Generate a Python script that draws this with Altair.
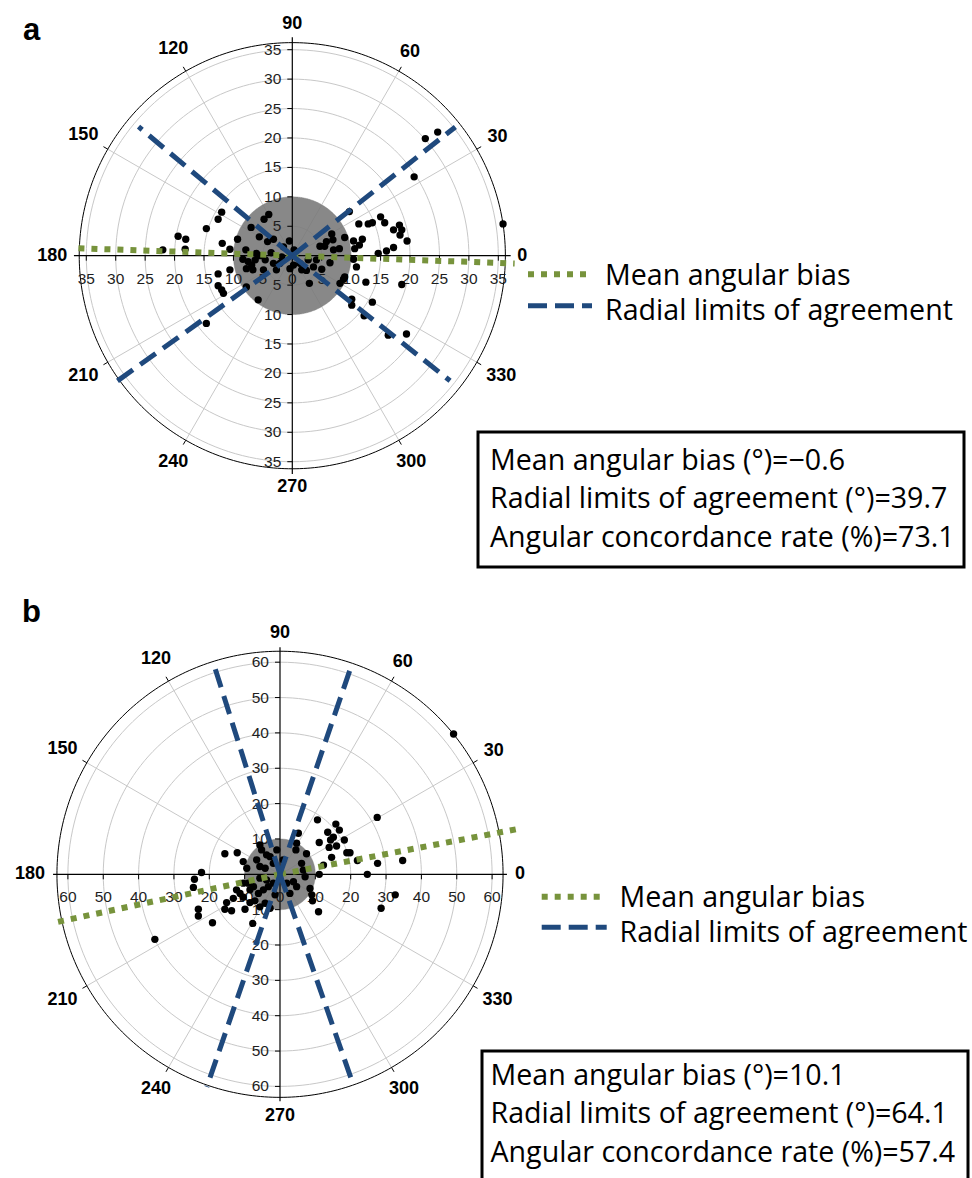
import math
import altair as alt
import pandas as pd

W = 972
PH = 589  # height of each panel

# ---------------- data ----------------
ANGLES = [0, 30, 60, 90, 120, 150, 180, 210, 240, 270, 300, 330]
LEGEND_TEXT = ["Mean angular bias", "Radial limits of agreement"]

# panel a : points (cartesian, data units)
A_X = [35.8, 22.6, 24.7, 20.7, 9.7, 11.3, 12.9, 13.6, 15.0, 15.7, 17.2, 18.2, 18.6, 18.3, 19.5,
       17.2, 16.0, 14.6, 11.9, 10.4, 11.4, 10.6, 8.9, 6.7, 6.9, 5.8, 5.5, 4.7, 7.0, 8.0,
       10.4, 10.9, 12.5, 18.6, 8.7, 6.4, 5.0, 3.6, 2.9, 8.1, 10.1, 10.1, 13.6, 12.2, 16.3,
       19.4, 1.3, 1.6, 0.2, 2.7,
       -4.0, -4.8, -7.0, -5.6, -4.2, -3.2, -12.0, -12.6, -14.6, -19.4, -18.1, -18.2, -22.0,
       -11.9, -10.6, -9.3, -7.9, -0.5, -1.5, 0.3, -6.1, -3.6,
       -8.4, -7.5, -6.9, -6.3, -4.6, -3.2, -6.7, -7.8, -10.6, -12.6, -12.6, -12.0, -11.7,
       -5.8, -14.6, -2.1, -0.4, -4.9, -2.7, -5.5, -1.8, -7.8, 2.4, 4.1, 8.9]
A_Y = [5.4, 19.9, 21.0, 13.4, 7.5, 5.4, 5.4, 5.6, 6.6, 5.6, 4.4, 5.2, 4.4, 3.5, 2.5,
       1.4, 0.8, 0.4, 2.8, 2.5, 1.8, 1.2, 3.1, 3.7, 2.7, 2.4, 1.6, 1.6, 1.0, 1.2,
       -0.6, -1.9, -4.5, -4.9, -4.0, -1.2, -2.3, -1.9, -4.7, -4.7, -7.4, -8.4, -7.9, -10.2, -13.5,
       -13.3, -1.3, -2.4, -1.6, -0.7,
       7.0, 6.2, 4.8, 3.2, 2.4, 2.8, 7.4, 6.2, 4.6, 3.3, 2.8, 1.1, 1.0,
       2.1, 1.1, 2.8, 1.0, 2.5, 1.5, 1.0, 0.4, 0.5,
       -0.6, -1.0, -1.6, -0.7, -0.7, -1.3, -2.4, -5.3, -2.4, -3.1, -5.1, -5.8, -6.4,
       -7.5, -11.5, -1.3, -2.2, -2.4, -2.4, 0.0, -0.2, -2.2, -2.5, -0.7, -3.6]
A_BIAS_ANG = [-2.0, 178.0]
A_BIAS_LEN = [37.8, 36.6]
A_LOA_ANG = [38.3, 140.0, 215.6, 321.6]
A_LOA_LEN = [35.3, 34.1, 37.4, 34.2]
A_STATS = ["Mean angular bias (°)=\u22120.6",
           "Radial limits of agreement (°)=39.7",
           "Angular concordance rate (%)=73.1"]

# panel b
B_X = [49.1, 27.5, 10.6, 15.8, 16.8, 13.5, 15.1, 14.3, 18.2, 16.0, 11.1, 13.9, 18.9, 19.8,
       14.6, 21.9, 27.6, 34.7, 24.7, 12.3, 11.1, 32.6, 28.6, 10.9, 9.2, 9.0, 8.5, 5.2, 4.7,
       4.5, 7.5, 6.1, 6.6, 7.1, 4.7, 3.8, 1.9, 2.8,
       -5.7, -5.2, -3.8, -2.8, -6.6, -10.4, -9.4, -12.1, -15.6, -0.9, -1.9, 0.9, -5.7, -4.2,
       -22.2, -24.2, -24.5, -23.1, -23.1, -19.1, -35.4, -15.1, -15.6, -13.7, -13.2, -11.3,
       -10.4, -9.9, -7.7, -8.5, -7.1, -5.7, -4.2, -2.8, -9.0, -7.5, -6.1, -4.7, -3.3, -1.4,
       -1.9, -3.8, -5.7, -8.5, -12.3, -10.4]
B_Y = [39.7, 16.1, 15.4, 14.2, 12.5, 11.9, 10.5, 9.7, 9.7, 8.0, 9.0, 7.6, 6.1, 6.1,
       4.8, 3.9, 3.1, 3.9, 0.0, 2.6, 0.0, -5.8, -9.6, -10.6, -7.5, -5.8, -4.0, 11.6, 8.8,
       6.9, 5.8, 3.1, 1.2, -0.7, -3.5, -2.1, -2.5, -5.4,
       8.3, 6.9, 5.5, 5.0, 4.1, 3.6, 1.7, 6.1, 5.8, 6.9, 3.1, 4.1, 2.2, 1.7,
       0.5, -1.4, -3.7, -9.9, -11.8, -13.7, -18.4, -8.0, -9.9, -10.3, -6.8, -5.4,
       -6.5, -9.9, -13.9, -8.0, -7.5, -9.2, -8.2, -9.6, -2.5, -3.5, -5.4, -4.4, -3.5, -5.8,
       -2.5, -1.6, -1.1, -4.4, -4.4, -2.5]
B_BIAS_ANG = [10.8, 192.1]
B_BIAS_LEN = [68.2, 66.0]
B_LOA_ANG = [71.1, 107.5, 251.0, 289.2]
B_LOA_LEN = [62.8, 62.6, 63.6, 63.1]
B_STATS = ["Mean angular bias (°)=10.1",
           "Radial limits of agreement (°)=64.1",
           "Angular concordance rate (%)=57.4"]

GREEN = "#77933C"
BLUE = "#1F497D"
NUMFONT = "Liberation Sans"
TXTFONT = "Open Sans"
TXTSIZE = 28.6

CFG_A = dict(cx=292.3, cy=255.7, s=5.886, rmax=35, step=5, outer=36.2, axis=37.1,
             lab=225, disk=10, letter="a", lx=23, ly=40,
             g=(528, 586, 274.3), bl=(528, 592, 305.7), legx=605, legy=285,
             box=(478, 964, 432, 567), statx=490, staty=470)
CFG_B = dict(cx=280.0, cy=285.3, s=3.535, rmax=60, step=10, outer=63.1, axis=64.2,
             lab=235, disk=10, letter="b", lx=22, ly=32.7,
             g=(541.7, 600.7, 307.7), bl=(541.7, 606.7, 338.3), legx=619.5, legy=317.7,
             box=(482, 968, 462, 600), statx=490.5, staty=496)


def one():
    return pd.DataFrame({"d": [0]})


def build(cfg, px, py, bias_ang, bias_len, loa_ang, loa_len, stats):
    s = cfg["s"]
    xdom = [-cfg["cx"] / s, (W - cfg["cx"]) / s]
    ydom = [-(PH - cfg["cy"]) / s, cfg["cy"] / s]
    xs = alt.Scale(domain=xdom, nice=False, zero=False)
    ys = alt.Scale(domain=ydom, nice=False, zero=False)

    def X(f):
        return alt.X(f, type="quantitative", scale=xs, axis=None)

    def Y(f):
        return alt.Y(f, type="quantitative", scale=ys, axis=None)

    layers = []
    # grid circles
    rows = []
    for r in range(cfg["step"], cfg["rmax"] + 1, cfg["step"]):
        for i in range(181):
            t = math.radians(i * 2)
            rows.append(dict(r=r, i=i, x=r * math.cos(t), y=r * math.sin(t)))
    layers.append(alt.Chart(pd.DataFrame(rows)).mark_line(color="#c8c8c8", strokeWidth=1)
                  .encode(X("x"), Y("y"), detail="r:N", order="i:Q"))
    # spokes
    sp = [a for a in ANGLES if a % 90 != 0]
    spd = pd.DataFrame(dict(x=[0.0] * len(sp), y=[0.0] * len(sp),
                            x2=[cfg["outer"] * math.cos(math.radians(a)) for a in sp],
                            y2=[cfg["outer"] * math.sin(math.radians(a)) for a in sp]))
    layers.append(alt.Chart(spd).mark_rule(color="#c8c8c8", strokeWidth=1)
                  .encode(X("x"), Y("y"), x2="x2", y2="y2"))
    # gray disk
    n = 201
    dx = [-cfg["disk"] + 2 * cfg["disk"] * k / (n - 1) for k in range(n)]
    dy = [math.sqrt(max(cfg["disk"] ** 2 - v * v, 0)) for v in dx]
    dd = pd.DataFrame(dict(x=dx, y=dy, y2=[-v for v in dy]))
    layers.append(alt.Chart(dd).mark_area(color="#777777", opacity=0.88)
                  .encode(X("x"), Y("y"), y2="y2"))
    # outer circle
    oc = []
    for i in range(361):
        t = math.radians(i)
        oc.append(dict(i=i, x=cfg["outer"] * math.cos(t), y=cfg["outer"] * math.sin(t)))
    layers.append(alt.Chart(pd.DataFrame(oc)).mark_line(color="black", strokeWidth=1)
                  .encode(X("x"), Y("y"), order="i:Q"))
    # angle ticks
    t0, t1 = cfg["outer"], cfg["outer"] + 5 / s
    tk = pd.DataFrame(dict(x=[t0 * math.cos(math.radians(a)) for a in sp],
                           y=[t0 * math.sin(math.radians(a)) for a in sp],
                           x2=[t1 * math.cos(math.radians(a)) for a in sp],
                           y2=[t1 * math.sin(math.radians(a)) for a in sp]))
    layers.append(alt.Chart(tk).mark_rule(color="black", strokeWidth=1)
                  .encode(X("x"), Y("y"), x2="x2", y2="y2"))
    # axes
    ax = pd.DataFrame(dict(x=[-cfg["axis"], 0.0], y=[0.0, -cfg["axis"]],
                           x2=[cfg["axis"], 0.0], y2=[0.0, cfg["axis"]]))
    layers.append(alt.Chart(ax).mark_rule(color="black", strokeWidth=1.2)
                  .encode(X("x"), Y("y"), x2="x2", y2="y2"))
    # radial ticks
    vals = [v for v in range(-cfg["rmax"], cfg["rmax"] + 1, cfg["step"]) if v != 0]
    vt = pd.DataFrame(dict(x=[0.0] * len(vals), x2=[-5 / s] * len(vals), y=[float(v) for v in vals]))
    layers.append(alt.Chart(vt).mark_rule(color="black", strokeWidth=1)
                  .encode(X("x"), Y("y"), x2="x2"))
    ht = pd.DataFrame(dict(x=[float(v) for v in vals], y=[0.0] * len(vals), y2=[-5 / s] * len(vals)))
    layers.append(alt.Chart(ht).mark_rule(color="black", strokeWidth=1)
                  .encode(X("x"), Y("y"), y2="y2"))
    # radial labels
    vl = pd.DataFrame(dict(x=[0.0] * len(vals), y=[float(v) for v in vals],
                           t=[str(abs(v)) for v in vals]))
    layers.append(alt.Chart(vl).mark_text(align="right", baseline="middle", dx=-11,
                                          font=NUMFONT, fontSize=15.5, color="#1e1e1e")
                  .encode(X("x"), Y("y"), text="t:N"))
    hv = list(range(-cfg["rmax"], cfg["rmax"] + 1, cfg["step"]))
    hl = pd.DataFrame(dict(x=[float(v) for v in hv], y=[0.0] * len(hv),
                           t=[str(abs(v)) for v in hv]))
    layers.append(alt.Chart(hl).mark_text(align="center", baseline="middle", dy=23,
                                          font=NUMFONT, fontSize=15.5, color="#1e1e1e")
                  .encode(X("x"), Y("y"), text="t:N"))
    # points
    layers.append(alt.Chart(pd.DataFrame(dict(x=px, y=py))).mark_circle(size=54, color="black", opacity=1)
                  .encode(X("x"), Y("y")))
    # bias line
    bd = pd.DataFrame(dict(x=[0.0] * len(bias_ang), y=[0.0] * len(bias_ang),
                           x2=[l * math.cos(math.radians(a)) for a, l in zip(bias_ang, bias_len)],
                           y2=[l * math.sin(math.radians(a)) for a, l in zip(bias_ang, bias_len)]))
    layers.append(alt.Chart(bd).mark_rule(color=GREEN, strokeWidth=6, strokeDash=[6, 7])
                  .encode(X("x"), Y("y"), x2="x2", y2="y2"))
    # limits of agreement
    ld = pd.DataFrame(dict(x=[0.0] * len(loa_ang), y=[0.0] * len(loa_ang),
                           x2=[l * math.cos(math.radians(a)) for a, l in zip(loa_ang, loa_len)],
                           y2=[l * math.sin(math.radians(a)) for a, l in zip(loa_ang, loa_len)]))
    layers.append(alt.Chart(ld).mark_rule(color=BLUE, strokeWidth=5, strokeDash=[19, 9])
                  .encode(X("x"), Y("y"), x2="x2", y2="y2"))
    # angle labels
    rows = []
    for a in ANGLES:
        w = len(str(a)) * 10
        t = math.radians(a)
        rp = cfg["lab"] + abs(math.cos(t)) * w / 2 + abs(math.sin(t)) * 6.5
        rows.append(dict(x=rp / s * math.cos(t), y=rp / s * math.sin(t), t=str(a)))
    layers.append(alt.Chart(pd.DataFrame(rows)).mark_text(align="center", baseline="middle",
                                                          font=NUMFONT, fontSize=18,
                                                          fontWeight="bold", color="black")
                  .encode(X("x"), Y("y"), text="t:N"))
    # legend
    g = cfg["g"]
    layers.append(alt.Chart(one()).mark_rule(color=GREEN, strokeWidth=6, strokeDash=[6, 7])
                  .encode(x=alt.value(g[0]), x2=alt.value(g[1]), y=alt.value(g[2])))
    b = cfg["bl"]
    layers.append(alt.Chart(one()).mark_rule(color=BLUE, strokeWidth=5, strokeDash=[19, 8])
                  .encode(x=alt.value(b[0]), x2=alt.value(b[1]), y=alt.value(b[2])))
    layers.append(alt.Chart(one()).mark_text(align="left", baseline="alphabetic", font=TXTFONT,
                                             fontSize=TXTSIZE, lineHeight=35, color="black")
                  .encode(x=alt.value(cfg["legx"]), y=alt.value(cfg["legy"]),
                          text=alt.value(LEGEND_TEXT)))
    # stats box
    bx = cfg["box"]
    layers.append(alt.Chart(one()).mark_rect(fillOpacity=0, stroke="black", strokeWidth=3, clip=True)
                  .encode(x=alt.value(bx[0]), x2=alt.value(bx[1]), y=alt.value(bx[2]), y2=alt.value(bx[3])))
    layers.append(alt.Chart(one()).mark_text(align="left", baseline="alphabetic", font=TXTFONT,
                                             fontSize=TXTSIZE, lineHeight=38.4, color="black")
                  .encode(x=alt.value(cfg["statx"]), y=alt.value(cfg["staty"]),
                          text=alt.value(stats)))
    # panel letter
    layers.append(alt.Chart(one()).mark_text(align="left", baseline="alphabetic", font=NUMFONT,
                                             fontSize=31, fontWeight="bold", color="black")
                  .encode(x=alt.value(cfg["lx"]), y=alt.value(cfg["ly"]),
                          text=alt.value(cfg["letter"])))
    return alt.layer(*layers).properties(width=W, height=PH)


pa = build(CFG_A, A_X, A_Y, A_BIAS_ANG, A_BIAS_LEN, A_LOA_ANG, A_LOA_LEN, A_STATS)
pb = build(CFG_B, B_X, B_Y, B_BIAS_ANG, B_BIAS_LEN, B_LOA_ANG, B_LOA_LEN, B_STATS)

chart = (alt.vconcat(pa, pb, spacing=0)
         .resolve_scale(x="independent", y="independent")
         .properties(padding=0)
         .configure_view(stroke=None))

chart.save("out.html", embed_options={"renderer": "svg", "actions": False})
